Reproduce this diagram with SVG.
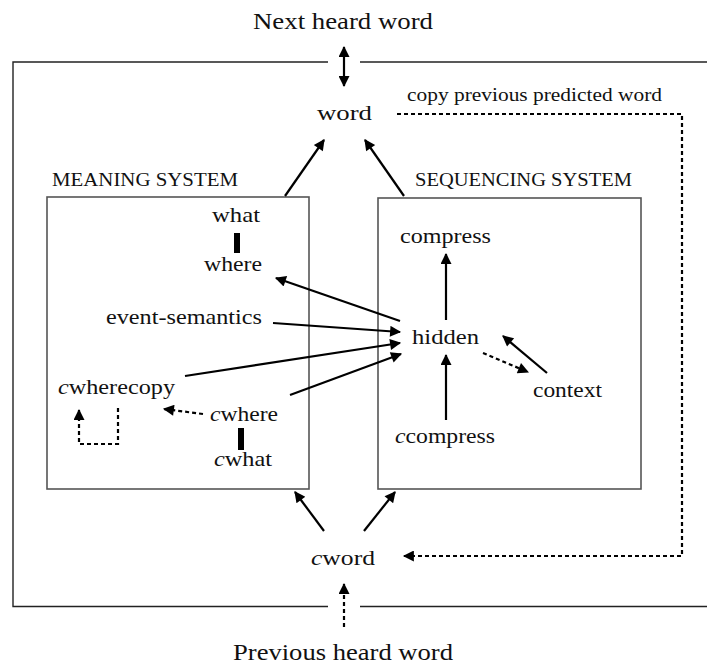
<svg xmlns="http://www.w3.org/2000/svg" width="707" height="664" viewBox="0 0 707 664">
  <style>
    text { font-family: "Liberation Serif", "DejaVu Serif", serif; fill: #111; }
    .big { font-size: 24px; }
    .node { font-size: 22px; }
    .cap { font-size: 19px; }
    .note { font-size: 18px; }
    .it { font-style: italic; }
    .frame { fill: none; stroke: #222; stroke-width: 1.4; }
    .box { fill: none; stroke: #555; stroke-width: 1.6; }
    .edge { fill: none; stroke: #000; stroke-width: 2.2; }
    .dot { fill: none; stroke: #000; stroke-width: 2.2; stroke-dasharray: 4 3; }
    .bar { fill: #000; }
  </style>
  <defs>
    <marker id="head" viewBox="0 0 10 10" refX="9" refY="5" markerUnits="userSpaceOnUse" markerWidth="13" markerHeight="11" orient="auto-start-reverse">
      <path d="M0,0 L10,5 L0,10 Z" fill="#000"/>
    </marker>
  </defs>

  <rect width="707" height="664" fill="#fff"/>

  <!-- outer frame with openings for the heard words -->
  <g id="frame">
    <path class="frame" d="M328,62 H13 V606.5 H328"/>
    <path class="frame" d="M360,62 H710"/>
    <path class="frame" d="M360,606.5 H710"/>
  </g>

  <g id="meaning-system">
    <rect class="box" x="47" y="197" width="262" height="292"/>
    <text class="cap" x="52" y="186" textLength="186" lengthAdjust="spacingAndGlyphs">MEANING SYSTEM</text>
  </g>
  <g id="sequencing-system">
    <rect class="box" x="378" y="198" width="263" height="291"/>
    <text class="cap" x="415" y="186" textLength="217" lengthAdjust="spacingAndGlyphs">SEQUENCING SYSTEM</text>
  </g>

  <g id="next-heard-word"><text class="big" x="253" y="29" textLength="180" lengthAdjust="spacingAndGlyphs">Next heard word</text></g>
  <g id="previous-heard-word"><text class="big" x="233" y="660" textLength="220" lengthAdjust="spacingAndGlyphs">Previous heard word</text></g>
  <g id="word"><text class="node" x="317" y="120" textLength="55" lengthAdjust="spacingAndGlyphs">word</text></g>
  <g id="copy-label"><text class="note" x="407" y="101" textLength="255" lengthAdjust="spacingAndGlyphs">copy previous predicted word</text></g>
  <g id="cword"><text class="node" x="311" y="565" textLength="64" lengthAdjust="spacingAndGlyphs"><tspan class="it">c</tspan>word</text></g>

  <g id="what"><text class="node" x="212" y="222" textLength="48" lengthAdjust="spacingAndGlyphs">what</text></g>
  <g id="where"><text class="node" x="204" y="271" textLength="58" lengthAdjust="spacingAndGlyphs">where</text></g>
  <g id="event-semantics"><text class="node" x="106" y="324" textLength="156" lengthAdjust="spacingAndGlyphs">event-semantics</text></g>
  <g id="cwherecopy"><text class="node" x="58" y="394" textLength="117" lengthAdjust="spacingAndGlyphs"><tspan class="it">c</tspan>wherecopy</text></g>
  <g id="cwhere"><text class="node" x="210" y="421" textLength="68" lengthAdjust="spacingAndGlyphs"><tspan class="it">c</tspan>where</text></g>
  <g id="cwhat"><text class="node" x="214" y="466" textLength="58" lengthAdjust="spacingAndGlyphs"><tspan class="it">c</tspan>what</text></g>

  <g id="compress"><text class="node" x="400" y="243" textLength="91" lengthAdjust="spacingAndGlyphs">compress</text></g>
  <g id="hidden"><text class="node" x="412" y="344" textLength="67" lengthAdjust="spacingAndGlyphs">hidden</text></g>
  <g id="context"><text class="node" x="533" y="397" textLength="69" lengthAdjust="spacingAndGlyphs">context</text></g>
  <g id="ccompress"><text class="node" x="395" y="443" textLength="100" lengthAdjust="spacingAndGlyphs"><tspan class="it">c</tspan>compress</text></g>

  <g id="connectors">
    <!-- bound pairs -->
    <rect class="bar" x="234" y="233" width="6" height="20"/>
    <rect class="bar" x="238" y="428" width="6" height="22"/>

    <!-- solid links -->
    <line class="edge" x1="344" y1="47" x2="344" y2="86" marker-start="url(#head)" marker-end="url(#head)"/>
    <line class="edge" x1="285" y1="196" x2="324" y2="140" marker-end="url(#head)"/>
    <line class="edge" x1="404" y1="196" x2="365" y2="140" marker-end="url(#head)"/>
    <line class="edge" x1="400" y1="321" x2="276" y2="278" marker-end="url(#head)"/>
    <line class="edge" x1="273" y1="323" x2="400" y2="332" marker-end="url(#head)"/>
    <line class="edge" x1="185" y1="376" x2="400" y2="343" marker-end="url(#head)"/>
    <line class="edge" x1="290" y1="395" x2="401" y2="354" marker-end="url(#head)"/>
    <line class="edge" x1="446" y1="320" x2="446" y2="254" marker-end="url(#head)"/>
    <line class="edge" x1="446" y1="420" x2="446" y2="355" marker-end="url(#head)"/>
    <line class="edge" x1="547" y1="373" x2="503" y2="336" marker-end="url(#head)"/>
    <line class="edge" x1="324" y1="531" x2="295" y2="492" marker-end="url(#head)"/>
    <line class="edge" x1="364" y1="531" x2="395" y2="492" marker-end="url(#head)"/>

    <!-- dotted links -->
    <line class="dot" x1="483" y1="353" x2="528" y2="372" marker-end="url(#head)"/>
    <line class="dot" x1="203" y1="414" x2="164" y2="409" marker-end="url(#head)"/>
    <path class="dot" d="M118,408 V444 H79 V410" marker-end="url(#head)"/>
    <path class="dot" d="M397,114 H682 V556 H404" marker-end="url(#head)"/>
    <line class="dot" x1="344" y1="627" x2="344" y2="584" marker-end="url(#head)"/>
  </g>
</svg>
